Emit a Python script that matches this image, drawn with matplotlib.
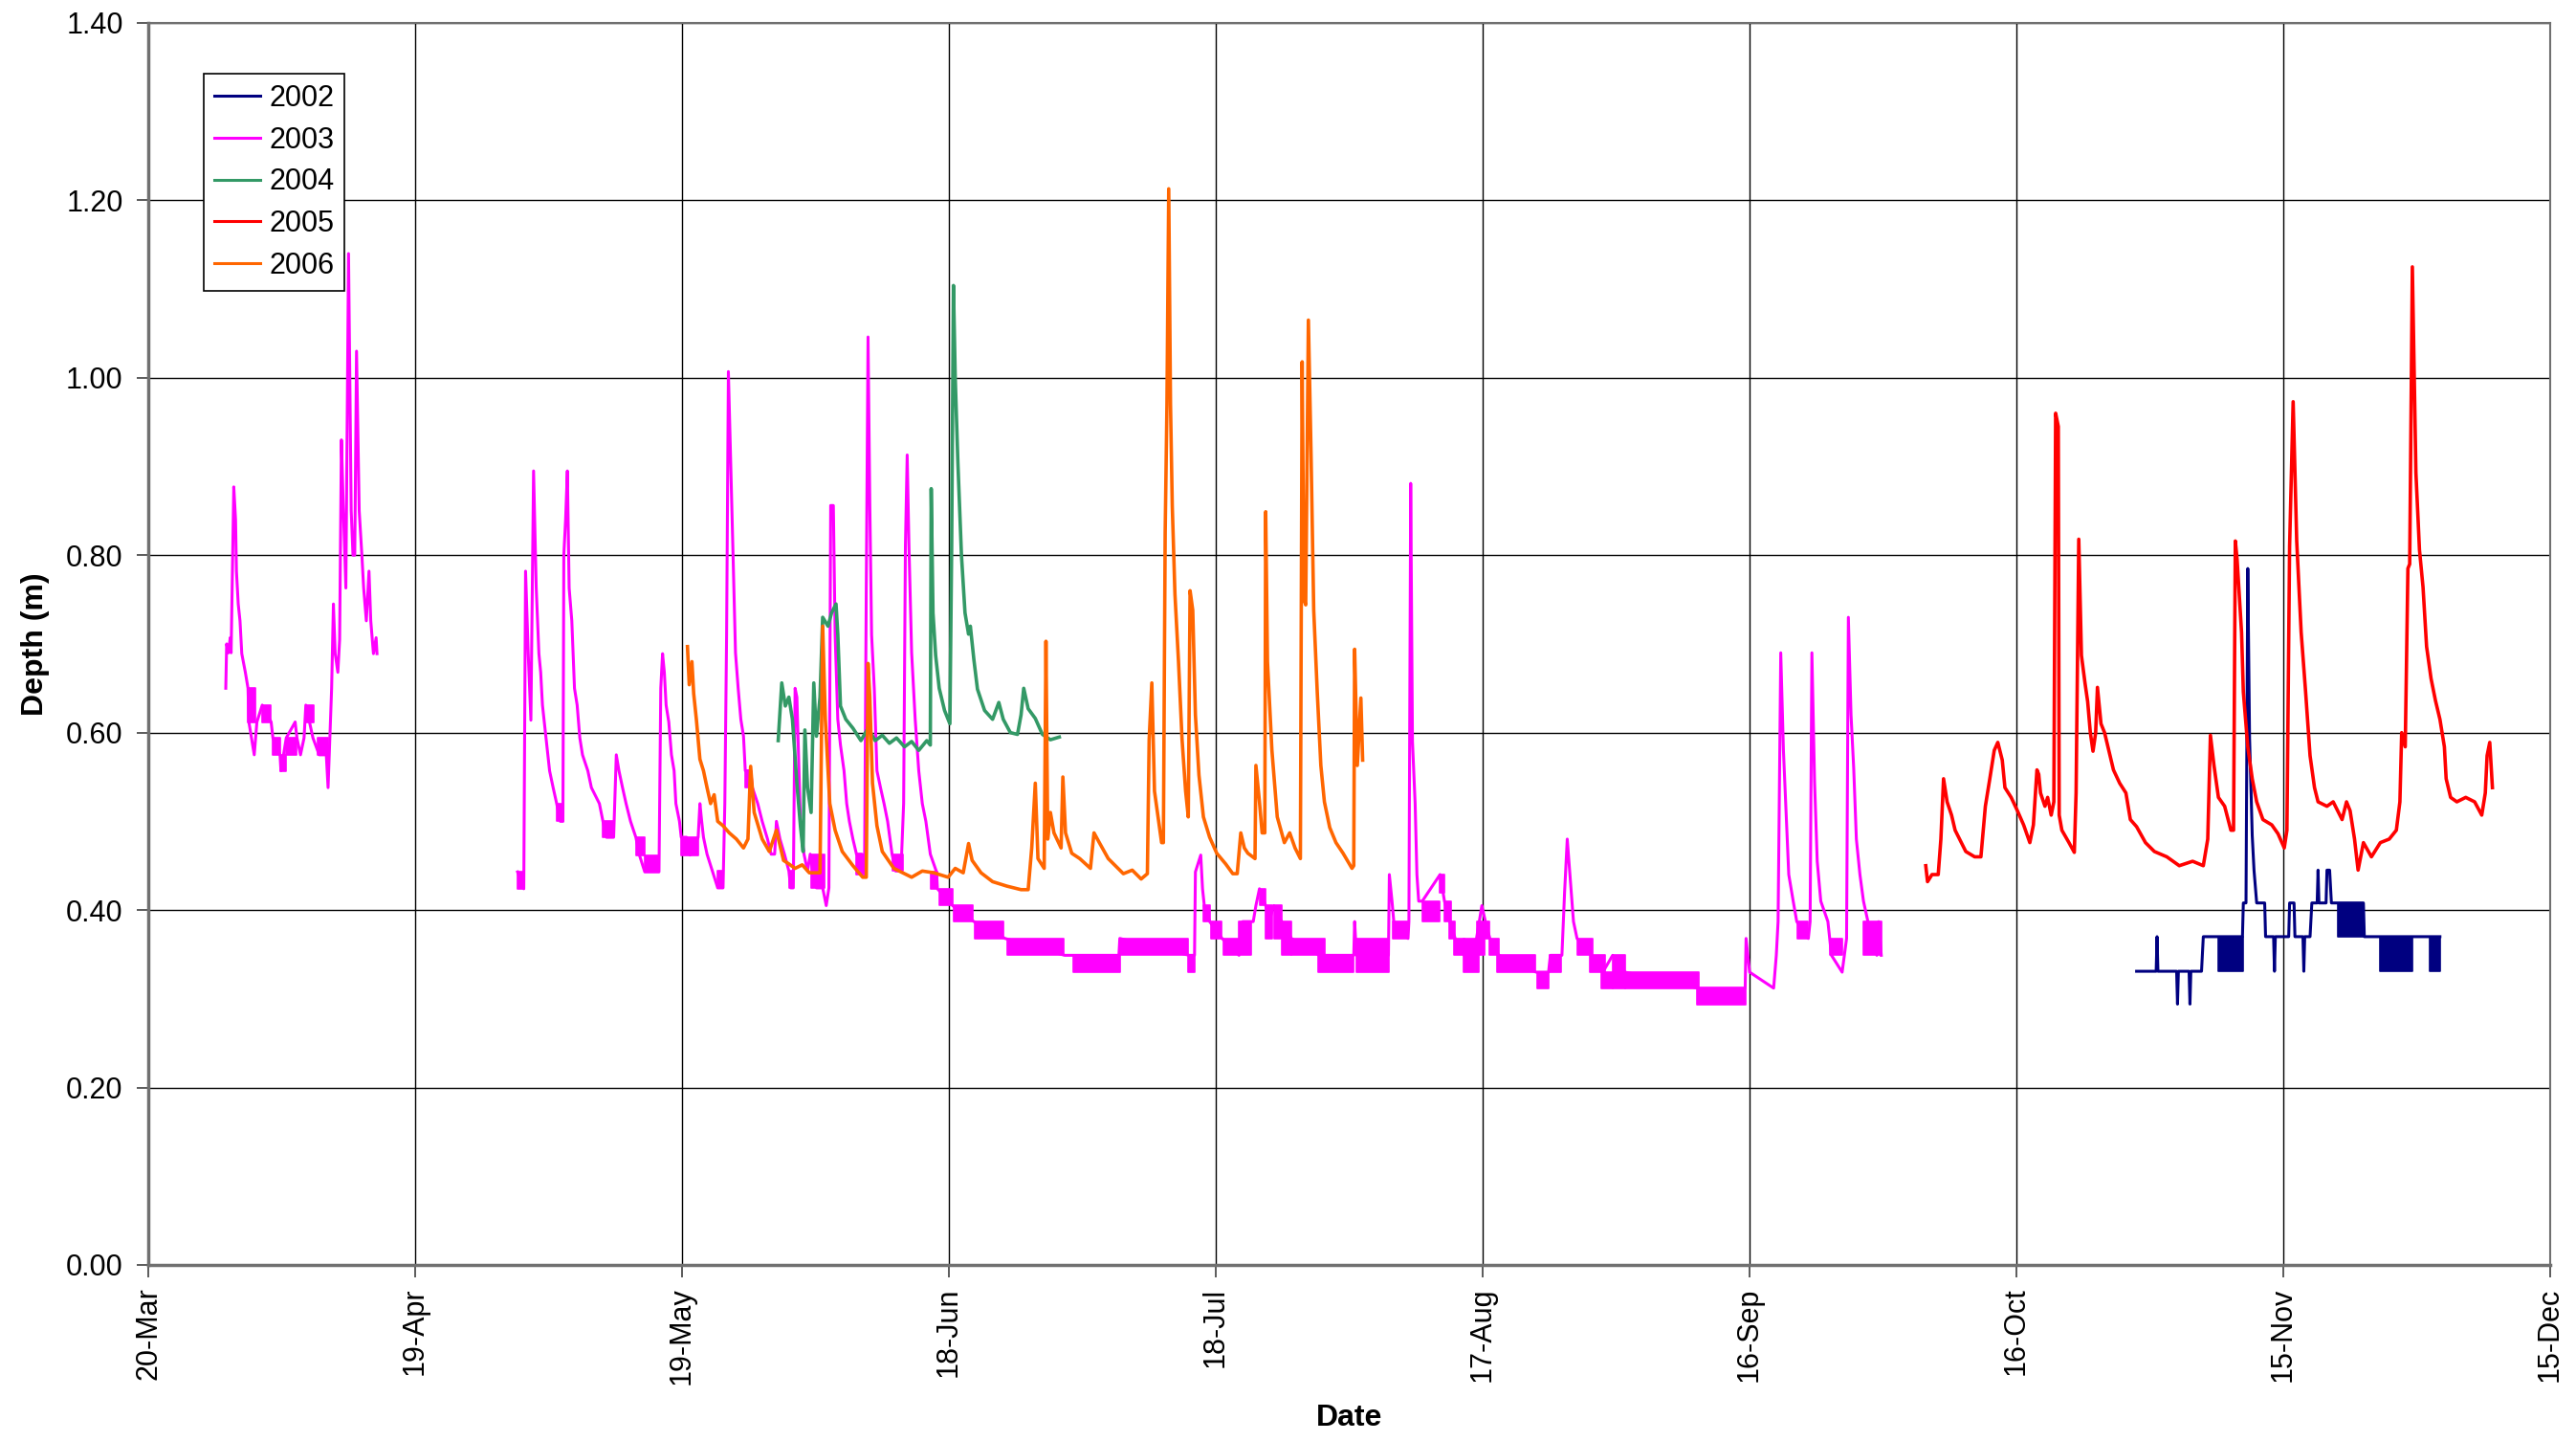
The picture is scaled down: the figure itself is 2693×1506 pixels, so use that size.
import numpy as np
import matplotlib
matplotlib.use("Agg")
import matplotlib.pyplot as plt

plt.rcParams['font.family'] = ['Liberation Sans', 'DejaVu Sans']

# days counted from 20-Mar
tick_days = [0, 30, 60, 90, 120, 150, 180, 210, 240, 270]
tick_labels = ['20-Mar', '19-Apr', '19-May', '18-Jun', '18-Jul',
               '17-Aug', '16-Sep', '16-Oct', '15-Nov', '15-Dec']

# 2002 (day, depth)
s2002 = [(223.5, 0.331), (225.7, 0.331), (225.8, 0.370), (225.9, 0.331), (228.0, 0.331),
         (228.1, 0.294), (228.2, 0.331), (229.4, 0.331), (229.5, 0.294), (229.6, 0.331),
         (230.8, 0.331), (231.0, 0.370), (235.4, 0.370), (235.5, 0.408), (235.8, 0.408),
         (236.0, 0.785), (236.2, 0.594), (236.4, 0.522), (236.5, 0.484), (236.7, 0.445),
         (237.0, 0.408), (237.9, 0.408), (238.0, 0.370), (238.9, 0.370), (239.0, 0.331),
         (239.1, 0.370), (240.6, 0.370), (240.7, 0.408), (241.2, 0.408), (241.3, 0.370),
         (242.2, 0.370), (242.3, 0.331), (242.4, 0.370), (243.0, 0.370), (243.2, 0.408),
         (243.8, 0.408), (243.9, 0.445), (244.0, 0.408), (244.8, 0.408), (244.9, 0.445),
         (245.2, 0.445), (245.4, 0.408), (249.0, 0.408), (249.1, 0.370), (257.6, 0.370)]
# flicker between two logger levels: (start, end, low, high)
b2002 = [(232.7, 235.5, 0.331, 0.370), (246.1, 249.0, 0.370, 0.408),
         (250.9, 254.5, 0.331, 0.370), (256.4, 257.6, 0.331, 0.370)]

# 2003, spring piece
s2003a = [(8.7, 0.650), (8.8, 0.700), (9.0, 0.690), (9.2, 0.707), (9.3, 0.690), (9.6, 0.877),
          (9.8, 0.840), (9.9, 0.782), (10.1, 0.745), (10.3, 0.726), (10.5, 0.689), (10.9, 0.668),
          (11.2, 0.650), (11.3, 0.612), (11.9, 0.575), (12.2, 0.612), (12.8, 0.631), (13.8, 0.612),
          (14.0, 0.594), (14.8, 0.575), (14.9, 0.557), (15.5, 0.594), (16.5, 0.612), (16.7, 0.594),
          (17.1, 0.575), (17.5, 0.594), (17.7, 0.631), (18.5, 0.594), (19.2, 0.575), (20.0, 0.575),
          (20.2, 0.538), (20.4, 0.594), (20.6, 0.650), (20.8, 0.745), (21.0, 0.689), (21.3, 0.668),
          (21.5, 0.705), (21.7, 0.930), (21.9, 0.858), (22.2, 0.763), (22.5, 1.140), (22.8, 0.850),
          (23.0, 0.800), (23.2, 0.800), (23.4, 1.030), (23.7, 0.850), (24.0, 0.800), (24.2, 0.763),
          (24.5, 0.726), (24.8, 0.782), (25.0, 0.726), (25.3, 0.689), (25.6, 0.707), (25.7, 0.689)]
b2003a = [(11.2, 12.0, 0.612, 0.650), (12.8, 13.8, 0.612, 0.631), (14.0, 14.8, 0.575, 0.594),
          (14.8, 15.5, 0.557, 0.575), (15.5, 16.7, 0.575, 0.594), (17.7, 18.6, 0.612, 0.631),
          (19.0, 20.2, 0.575, 0.594)]

# 2003, main piece
s2003b = [(41.5, 0.443), (42.2, 0.424), (42.4, 0.782), (42.7, 0.689), (43.0, 0.614), (43.3, 0.895),
          (43.6, 0.763), (43.9, 0.689), (44.1, 0.668), (44.3, 0.631), (44.7, 0.594), (44.9, 0.575),
          (45.1, 0.557), (45.5, 0.538), (45.9, 0.520), (46.3, 0.500), (46.6, 0.500), (46.7, 0.800),
          (46.9, 0.840), (47.1, 0.895), (47.3, 0.763), (47.6, 0.726), (47.9, 0.650), (48.2, 0.631),
          (48.5, 0.594), (48.8, 0.575), (49.4, 0.557), (49.8, 0.538), (50.7, 0.520), (51.1, 0.500),
          (51.5, 0.482), (52.3, 0.482), (52.6, 0.575), (52.9, 0.557), (53.3, 0.538), (53.7, 0.520),
          (54.2, 0.500), (54.8, 0.482), (55.2, 0.462), (55.8, 0.443), (57.4, 0.443), (57.6, 0.650),
          (57.8, 0.689), (58.0, 0.668), (58.2, 0.631), (58.5, 0.612), (58.8, 0.575), (59.1, 0.557),
          (59.3, 0.520), (59.7, 0.500), (59.9, 0.482), (60.5, 0.482), (60.9, 0.462), (61.8, 0.482),
          (62.0, 0.520), (62.2, 0.500), (62.4, 0.482), (62.8, 0.463), (63.4, 0.444), (64.0, 0.425),
          (64.6, 0.425), (64.8, 0.520), (65.0, 0.710), (65.2, 1.007), (65.4, 0.930), (65.7, 0.810),
          (66.0, 0.690), (66.3, 0.650), (66.6, 0.615), (66.9, 0.596), (67.1, 0.557), (67.7, 0.557),
          (67.9, 0.538), (68.5, 0.520), (69.0, 0.500), (69.6, 0.480), (70.0, 0.463), (70.4, 0.463),
          (70.6, 0.500), (71.0, 0.480), (71.5, 0.463), (72.0, 0.444), (72.2, 0.425), (72.5, 0.425),
          (72.7, 0.650), (72.9, 0.640), (73.3, 0.500), (73.7, 0.463), (74.1, 0.444), (74.4, 0.463),
          (74.7, 0.444), (75.1, 0.425), (75.8, 0.425), (76.2, 0.405), (76.5, 0.425), (76.7, 0.856),
          (77.0, 0.856), (77.2, 0.710), (77.5, 0.615), (77.8, 0.586), (78.2, 0.557), (78.5, 0.520),
          (78.8, 0.500), (79.2, 0.480), (79.6, 0.463), (80.2, 0.463), (80.5, 0.440), (80.7, 0.760),
          (80.9, 1.046), (81.1, 0.856), (81.3, 0.710), (81.6, 0.650), (81.9, 0.557), (82.3, 0.538),
          (82.7, 0.520), (83.1, 0.500), (83.6, 0.463), (84.0, 0.444), (84.6, 0.444), (84.9, 0.520),
          (85.1, 0.810), (85.3, 0.913), (85.5, 0.810), (85.8, 0.690), (86.2, 0.615), (86.6, 0.557),
          (87.0, 0.520), (87.4, 0.500), (87.9, 0.463), (88.6, 0.443), (88.7, 0.424), (90.4, 0.405),
          (92.8, 0.387), (96.3, 0.368), (103.0, 0.349), (109.1, 0.349), (109.2, 0.368), (117.0, 0.349),
          (117.6, 0.349), (117.7, 0.443), (118.3, 0.462), (118.5, 0.424), (118.7, 0.405), (119.3, 0.387),
          (120.7, 0.368), (122.6, 0.349), (123.0, 0.387), (124.2, 0.387), (124.5, 0.405), (124.9, 0.424),
          (125.6, 0.405), (126.0, 0.387), (126.5, 0.405), (127.4, 0.387), (128.5, 0.368), (131.6, 0.349),
          (135.5, 0.349), (135.6, 0.387), (135.8, 0.349), (139.4, 0.349), (139.5, 0.440), (139.8, 0.410),
          (140.0, 0.387), (141.6, 0.368), (141.7, 0.387), (141.9, 0.881), (142.1, 0.590), (142.4, 0.520),
          (142.6, 0.440), (142.8, 0.410), (143.2, 0.410), (145.2, 0.440), (145.7, 0.410), (146.3, 0.387),
          (146.9, 0.368), (147.9, 0.349), (149.3, 0.368), (149.9, 0.405), (150.3, 0.387), (150.8, 0.368),
          (151.8, 0.349), (156.0, 0.330), (157.4, 0.330), (157.6, 0.349), (158.9, 0.349), (159.2, 0.420),
          (159.5, 0.480), (159.8, 0.440), (160.2, 0.387), (160.6, 0.368), (162.2, 0.349), (163.5, 0.330),
          (164.6, 0.349), (166.0, 0.330), (174.2, 0.312), (179.5, 0.312), (179.6, 0.368), (180.0, 0.330),
          (182.7, 0.312), (183.0, 0.349), (183.2, 0.387), (183.5, 0.690), (183.8, 0.580), (184.1, 0.510),
          (184.4, 0.440), (184.9, 0.410), (185.3, 0.387), (186.6, 0.368), (186.8, 0.387), (187.0, 0.690),
          (187.3, 0.545), (187.6, 0.455), (188.0, 0.410), (188.8, 0.387), (189.2, 0.349), (190.4, 0.330),
          (190.9, 0.368), (191.1, 0.730), (191.4, 0.620), (191.7, 0.560), (192.0, 0.480), (192.4, 0.440),
          (192.8, 0.410), (193.3, 0.387), (194.0, 0.368), (194.3, 0.349), (194.5, 0.387), (194.8, 0.349)]
b2003b = [(41.5, 42.2, 0.424, 0.443), (45.9, 46.6, 0.500, 0.520), (51.1, 52.3, 0.482, 0.500),
          (54.8, 55.8, 0.462, 0.482), (55.8, 57.4, 0.443, 0.462), (59.9, 61.8, 0.462, 0.482),
          (64.0, 64.6, 0.425, 0.444), (67.1, 67.8, 0.538, 0.557), (72.0, 72.5, 0.425, 0.444),
          (74.5, 76.0, 0.425, 0.463), (79.6, 80.4, 0.440, 0.463), (83.6, 84.8, 0.444, 0.463),
          (87.9, 88.7, 0.424, 0.443), (88.9, 90.4, 0.405, 0.424), (90.5, 92.7, 0.387, 0.405),
          (92.9, 96.1, 0.368, 0.387), (96.6, 102.9, 0.349, 0.368), (104.0, 109.2, 0.330, 0.349),
          (109.2, 116.9, 0.349, 0.368), (116.9, 117.6, 0.330, 0.349), (118.6, 119.3, 0.387, 0.405),
          (119.4, 120.6, 0.368, 0.387), (120.8, 122.6, 0.349, 0.368), (122.6, 124.0, 0.349, 0.387),
          (124.9, 125.6, 0.405, 0.424), (125.6, 126.3, 0.368, 0.405), (126.5, 127.4, 0.368, 0.405),
          (127.4, 128.5, 0.349, 0.387), (128.5, 132.2, 0.349, 0.368), (131.5, 135.5, 0.330, 0.349),
          (135.8, 139.4, 0.330, 0.368), (139.9, 141.6, 0.368, 0.387), (143.2, 145.2, 0.387, 0.410),
          (145.2, 145.7, 0.420, 0.440), (145.7, 146.4, 0.387, 0.410), (146.2, 146.9, 0.368, 0.387),
          (146.8, 148.0, 0.349, 0.368), (147.8, 149.6, 0.330, 0.368), (149.3, 150.2, 0.349, 0.387),
          (150.2, 150.7, 0.368, 0.387), (150.7, 151.8, 0.349, 0.368), (151.6, 155.9, 0.330, 0.349),
          (156.1, 157.4, 0.312, 0.330), (157.5, 158.8, 0.330, 0.349), (160.6, 162.4, 0.349, 0.368),
          (162.0, 163.8, 0.330, 0.349), (163.3, 164.6, 0.312, 0.330), (164.6, 166.0, 0.312, 0.349),
          (166.0, 174.3, 0.312, 0.330), (174.1, 179.6, 0.293, 0.312), (185.4, 186.6, 0.368, 0.387),
          (189.0, 190.4, 0.349, 0.368), (192.8, 194.8, 0.349, 0.387)]

s2004 = [(70.8, 0.591), (71.2, 0.656), (71.6, 0.630), (72.0, 0.640), (72.4, 0.615), (72.9, 0.543),
         (73.3, 0.495), (73.6, 0.466), (73.8, 0.603), (74.1, 0.538), (74.5, 0.510), (74.8, 0.656),
         (75.1, 0.596), (75.5, 0.640), (75.8, 0.730), (76.4, 0.720), (76.8, 0.735), (77.3, 0.745),
         (77.5, 0.711), (77.8, 0.630), (78.4, 0.615), (79.2, 0.605), (80.1, 0.591), (80.9, 0.605),
         (81.7, 0.591), (82.5, 0.597), (83.3, 0.588), (84.1, 0.594), (85.0, 0.584), (85.8, 0.590),
         (86.6, 0.580), (87.5, 0.591), (87.9, 0.586), (88.0, 0.875), (88.2, 0.735), (88.5, 0.687),
         (88.9, 0.650), (89.5, 0.625), (90.1, 0.610), (90.3, 0.810), (90.5, 1.104), (90.7, 1.000),
         (91.0, 0.904), (91.4, 0.800), (91.8, 0.735), (92.2, 0.711), (92.4, 0.720), (92.8, 0.682),
         (93.2, 0.649), (94.0, 0.625), (94.9, 0.615), (95.6, 0.634), (96.1, 0.615), (96.9, 0.600),
         (97.7, 0.598), (98.1, 0.620), (98.4, 0.650), (98.9, 0.627), (99.7, 0.616), (100.5, 0.598),
         (101.4, 0.592), (102.4, 0.595)]

s2005 = [(199.8, 0.450), (200.0, 0.432), (200.5, 0.440), (201.2, 0.440), (201.5, 0.480), (201.8, 0.548),
         (202.2, 0.522), (202.7, 0.507), (203.1, 0.490), (203.6, 0.480), (204.3, 0.466), (205.3, 0.460),
         (206.0, 0.460), (206.5, 0.517), (207.0, 0.548), (207.5, 0.580), (207.9, 0.589), (208.4, 0.569),
         (208.7, 0.538), (209.4, 0.527), (210.1, 0.512), (210.8, 0.496), (211.5, 0.476), (211.9, 0.496),
         (212.3, 0.558), (212.5, 0.553), (212.7, 0.532), (213.2, 0.517), (213.5, 0.527), (213.9, 0.507),
         (214.2, 0.522), (214.4, 0.960), (214.7, 0.945), (214.8, 0.507), (215.1, 0.490), (215.9, 0.476),
         (216.5, 0.465), (216.7, 0.532), (217.0, 0.818), (217.3, 0.687), (217.7, 0.656), (218.0, 0.635),
         (218.3, 0.600), (218.6, 0.579), (218.9, 0.600), (219.1, 0.651), (219.5, 0.610), (219.9, 0.600),
         (220.4, 0.579), (220.9, 0.558), (221.6, 0.543), (222.3, 0.532), (222.8, 0.502), (223.5, 0.494),
         (224.5, 0.476), (225.5, 0.466), (226.9, 0.460), (228.3, 0.450), (229.8, 0.455), (231.0, 0.450),
         (231.5, 0.480), (231.8, 0.597), (232.2, 0.563), (232.7, 0.527), (233.4, 0.517), (234.1, 0.490),
         (234.4, 0.490), (234.6, 0.816), (234.8, 0.795), (235.3, 0.713), (235.5, 0.646), (236.0, 0.584),
         (236.5, 0.548), (237.0, 0.522), (237.7, 0.502), (238.7, 0.496), (239.4, 0.486), (240.1, 0.470),
         (240.4, 0.490), (240.7, 0.810), (241.1, 0.973), (241.5, 0.816), (242.0, 0.713), (242.5, 0.646),
         (243.0, 0.574), (243.5, 0.538), (243.9, 0.522), (244.9, 0.517), (245.6, 0.522), (246.6, 0.502),
         (247.1, 0.522), (247.5, 0.512), (248.0, 0.480), (248.4, 0.445), (249.0, 0.476), (249.9, 0.460),
         (250.9, 0.476), (251.9, 0.480), (252.7, 0.490), (253.1, 0.522), (253.3, 0.600), (253.7, 0.584),
         (254.0, 0.785), (254.2, 0.790), (254.5, 1.125), (254.9, 0.893), (255.3, 0.806), (255.7, 0.764),
         (256.1, 0.697), (256.6, 0.661), (257.1, 0.636), (257.6, 0.615), (258.1, 0.584), (258.3, 0.548),
         (258.8, 0.527), (259.5, 0.522), (260.5, 0.527), (261.5, 0.522), (262.3, 0.507), (262.7, 0.532),
         (262.9, 0.574), (263.2, 0.589), (263.5, 0.538)]

s2006 = [(60.6, 0.697), (60.8, 0.654), (61.1, 0.680), (61.3, 0.644), (61.6, 0.615), (62.0, 0.570),
         (62.4, 0.557), (62.8, 0.538), (63.2, 0.520), (63.6, 0.530), (64.0, 0.500), (64.6, 0.495),
         (65.3, 0.487), (66.1, 0.480), (66.9, 0.470), (67.4, 0.480), (67.7, 0.562), (68.1, 0.510),
         (69.0, 0.480), (69.8, 0.466), (70.6, 0.490), (71.4, 0.456), (72.0, 0.452), (72.7, 0.447),
         (73.5, 0.451), (74.3, 0.442), (75.5, 0.442), (75.8, 0.720), (76.1, 0.615), (76.6, 0.520),
         (77.2, 0.490), (78.0, 0.466), (79.2, 0.450), (80.3, 0.437), (80.7, 0.437), (80.9, 0.678),
         (81.1, 0.640), (81.4, 0.543), (81.9, 0.495), (82.5, 0.466), (83.8, 0.447), (84.8, 0.442),
         (85.8, 0.437), (87.0, 0.444), (88.3, 0.442), (89.9, 0.437), (90.7, 0.447), (91.6, 0.442),
         (92.2, 0.475), (92.6, 0.456), (93.6, 0.442), (94.9, 0.432), (96.5, 0.427), (98.1, 0.423),
         (98.9, 0.423), (99.3, 0.470), (99.7, 0.543), (100.0, 0.458), (100.7, 0.447), (100.9, 0.703),
         (101.1, 0.480), (101.4, 0.510), (101.8, 0.487), (102.6, 0.470), (102.8, 0.550), (103.1, 0.487),
         (103.8, 0.464), (104.7, 0.458), (105.9, 0.447), (106.3, 0.487), (106.9, 0.476), (107.9, 0.458),
         (109.6, 0.441), (110.6, 0.445), (111.6, 0.435), (112.3, 0.441), (112.5, 0.592), (112.8, 0.656),
         (113.1, 0.534), (113.5, 0.505), (113.9, 0.476), (114.1, 0.476), (114.3, 0.825), (114.5, 0.970),
         (114.7, 1.213), (114.9, 0.970), (115.1, 0.855), (115.4, 0.756), (115.8, 0.680), (116.2, 0.592),
         (116.6, 0.534), (116.9, 0.505), (117.1, 0.760), (117.4, 0.738), (117.7, 0.620), (118.1, 0.552),
         (118.6, 0.505), (119.3, 0.482), (120.1, 0.464), (121.1, 0.452), (121.9, 0.441), (122.4, 0.441),
         (122.8, 0.487), (123.2, 0.470), (123.6, 0.464), (124.4, 0.458), (124.5, 0.563), (124.9, 0.522),
         (125.2, 0.487), (125.5, 0.487), (125.6, 0.849), (125.8, 0.680), (126.3, 0.580), (126.9, 0.505),
         (127.7, 0.476), (128.3, 0.487), (128.9, 0.470), (129.5, 0.458), (129.7, 1.018), (129.9, 0.750),
         (130.1, 0.744), (130.4, 1.065), (130.7, 0.913), (131.0, 0.738), (131.4, 0.645), (131.8, 0.563),
         (132.2, 0.522), (132.8, 0.493), (133.5, 0.476), (134.3, 0.464), (135.3, 0.447), (135.5, 0.450),
         (135.6, 0.694), (135.9, 0.563), (136.3, 0.639), (136.5, 0.569)]

colors = {'2002': '#000080', '2003': '#FF00FF', '2004': '#339966',
          '2005': '#FF0000', '2006': '#FF6600'}

fig = plt.figure(figsize=(26.93, 15.06), dpi=100)
ax = fig.add_axes([0.0576, 0.1222, 0.9324, 0.8619])

LW = 2.2


def draw(pts, color, label=None, lw=LW):
    d = np.array(pts)
    ax.plot(d[:, 0], d[:, 1], color=color, lw=lw, label=label, zorder=3)


def draw_bands(bands, color):
    for s, e, lo, hi in bands:
        ax.fill_between([s, e], [lo, lo], [hi, hi], color=color, lw=1.2, zorder=3)


draw(s2002, colors['2002'], '2002')
draw_bands(b2002, colors['2002'])
draw(s2003a, colors['2003'], '2003')
draw_bands(b2003a, colors['2003'])
draw(s2003b, colors['2003'])
draw_bands(b2003b, colors['2003'])
draw(s2004, colors['2004'], '2004', lw=2.6)
draw(s2005, colors['2005'], '2005', lw=2.6)
draw(s2006, colors['2006'], '2006', lw=2.6)

ax.set_xlim(0, 270)
ax.set_ylim(0, 1.4)
ax.set_xticks(tick_days)
ax.set_xticklabels(tick_labels, rotation=90, fontsize=22)
ax.set_yticks(np.arange(0, 1.41, 0.2))
ax.set_yticklabels(['%.2f' % v for v in np.arange(0, 1.41, 0.2)], fontsize=22)
ax.tick_params(axis='both', direction='out', length=9, width=1.2, color='#404040')
ax.tick_params(axis='y', pad=10)
ax.tick_params(axis='x', pad=8)

ax.grid(True, color='black', lw=1.0, zorder=0)
ax.set_axisbelow(True)
for side in ['left', 'bottom']:
    ax.spines[side].set_color('#707070')
    ax.spines[side].set_linewidth(2.5)
for side in ['top', 'right']:
    ax.spines[side].set_color('#707070')
    ax.spines[side].set_linewidth(1.5)

ax.set_ylabel('Depth (m)', fontsize=23, fontweight='bold', labelpad=12)
ax.set_xlabel('Date', fontsize=23, fontweight='bold', labelpad=14)

leg = ax.legend(loc='upper left', bbox_to_anchor=(0.023, 0.959), fontsize=22,
                frameon=True, fancybox=False, edgecolor='black', framealpha=1,
                handlelength=1.6, handletextpad=0.3, labelspacing=0.45,
                borderpad=0.35, borderaxespad=0)
leg.get_frame().set_linewidth(1.2)
for line in leg.get_lines():
    line.set_linewidth(2.2)

fig.savefig('out.png', dpi=100)
